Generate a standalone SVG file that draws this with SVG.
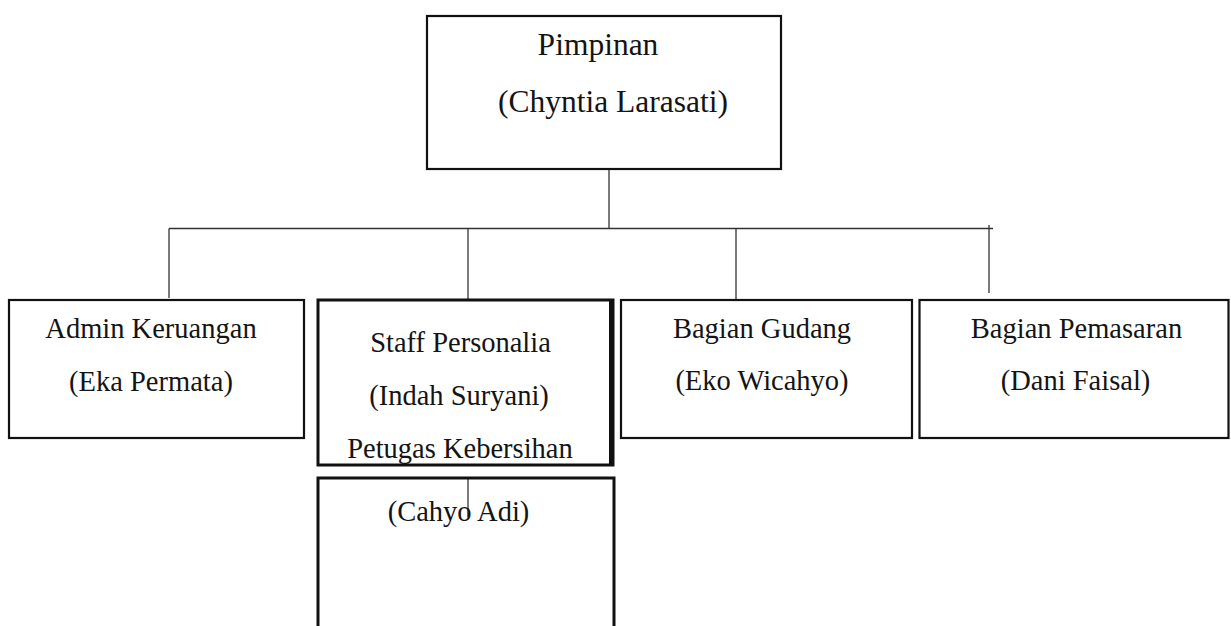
<svg xmlns="http://www.w3.org/2000/svg" width="1231" height="626" viewBox="0 0 1231 626">
  <style>
    .box { fill: #ffffff; stroke: #111111; stroke-width: 2.2; }
    .thick { fill: none; stroke: #111111; stroke-width: 3; }
    .link { fill: none; stroke: #333333; stroke-width: 1.3; }
    .lbl { font-family: "Liberation Serif", "Times New Roman", serif; font-size: 28.5px; fill: #141414; text-anchor: middle; }
    .big { font-size: 31.5px; }
  </style>
  <rect width="1231" height="626" fill="#ffffff"/>

  <!-- connectors -->
  <g id="connectors">
    <line class="link" x1="609" y1="169" x2="609" y2="228.5"/>
    <line class="link" x1="169" y1="228.5" x2="993" y2="228.5"/>
    <line class="link" x1="169" y1="228.5" x2="169" y2="298"/>
    <line class="link" x1="468" y1="228.5" x2="468" y2="299"/>
    <line class="link" x1="736" y1="228.5" x2="736" y2="299"/>
    <line class="link" x1="989" y1="225" x2="989" y2="293"/>
    <line class="link" x1="468" y1="478" x2="468" y2="517"/>
  </g>

  <g id="pimpinan">
    <rect class="box" x="427" y="16" width="354" height="153" stroke-width="2.6"/>
    <text class="lbl big" x="598" y="55">Pimpinan</text>
    <text class="lbl big" x="613" y="112">(Chyntia Larasati)</text>
  </g>

  <g id="admin">
    <rect class="box" x="9" y="300" width="295" height="138"/>
    <text class="lbl" x="151" y="338">Admin Keruangan</text>
    <text class="lbl" x="151" y="391">(Eka Permata)</text>
  </g>

  <g id="staff">
    <rect class="thick" x="318" y="300" width="295" height="165"/>
    <line class="thick" x1="610.5" y1="300" x2="610.5" y2="465"/>
    <text class="lbl" x="460.5" y="352">Staff Personalia</text>
    <text class="lbl" x="459" y="405">(Indah Suryani)</text>
    <text class="lbl" x="460" y="458">Petugas Kebersihan</text>
  </g>

  <g id="kebersihan">
    <path class="thick" d="M318 628 V478 H614 V628"/>
    <text class="lbl" x="458.5" y="521">(Cahyo Adi)</text>
  </g>

  <g id="gudang">
    <rect class="box" x="621" y="300" width="291" height="138"/>
    <text class="lbl" x="762" y="338">Bagian Gudang</text>
    <text class="lbl" x="762" y="390">(Eko Wicahyo)</text>
  </g>

  <g id="pemasaran">
    <rect class="box" x="919.5" y="300" width="309" height="138"/>
    <text class="lbl" x="1076.5" y="338">Bagian Pemasaran</text>
    <text class="lbl" x="1075.5" y="390">(Dani Faisal)</text>
  </g>
</svg>
